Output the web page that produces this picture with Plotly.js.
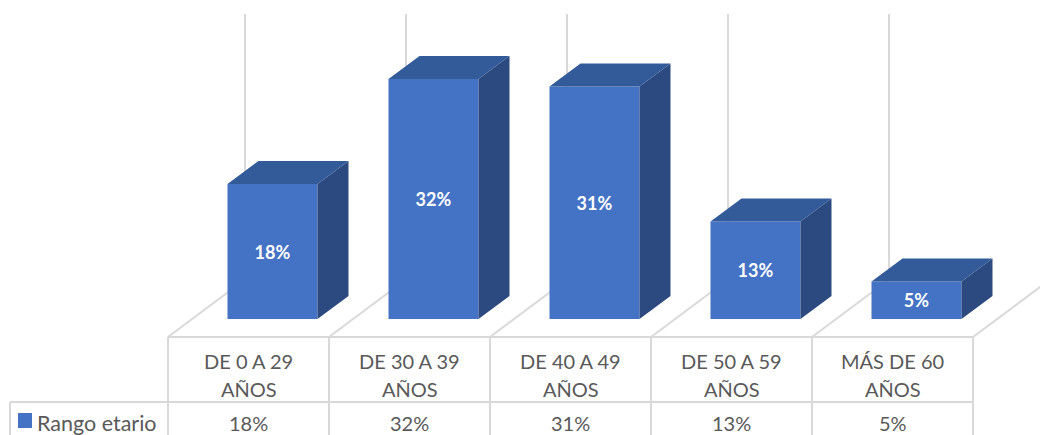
<!DOCTYPE html>
<html>
<head>
<meta charset="utf-8">
<script src="https://cdn.plot.ly/plotly-3.0.1.min.js"></script>
<style>html,body{margin:0;padding:0;background:#fff;}#chart{width:1040px;height:435px;}</style>
</head>
<body>
<div id="chart"></div>
<script>
// ---- data ----
const categories = ['DE 0 A 29 AÑOS', 'DE 30 A 39 AÑOS', 'DE 40 A 49 AÑOS', 'DE 50 A 59 AÑOS', 'MÁS DE 60 AÑOS'];
const values = [18, 32, 31, 13, 5];
const seriesName = 'Rango etario';
const axisMax = 35.4;

// ---- geometry (category units on x, percent on y) ----
const W = 1040, H = 435;
const catPx = 161, cat0Px = 248.5;        // pixel width of one category, centre of first
const pxPerPct = 7.5, floorPx = 337;      // pixels per percent, floor front edge
const xRange = [(0 - cat0Px) / catPx, (W - cat0Px) / catPx];
const yRange = [(floorPx - H) / pxPerPct, floorPx / pxPerPct];
const floorDX = 77 / catPx, floorDY = 57.5 / pxPerPct;     // full floor depth
const barOffX = 24 / catPx, barOffY = 18 / pxPerPct;       // bar front face position
const barDX = 31 / catPx, barDY = 23 / pxPerPct;           // bar depth
const barW = 90 / catPx;

const FRONT = '#4472C4', TOP = '#335A99', SIDE = '#2C4A80';
const GRID = '#D9D9D9', TXT = '#595959';
const FONT = 'Lato, "Open Sans", sans-serif';

const px = p => p / W;
const py = p => 1 - p / H;

const idx = categories.map((c, i) => i);
const bounds = categories.map((c, i) => i - 0.5).concat([categories.length - 0.5]);

// side faces & top faces (computed from values)
const sideX = [], sideY = [], topX = [], topY = [];
idx.forEach(i => {
  const v = values[i];
  const x0 = i + barOffX - barW / 2, x1 = i + barOffX + barW / 2;
  const b = barOffY, t = barOffY + v;
  sideX.push(x1, x1, x1 + barDX, x1 + barDX, x1, null);
  sideY.push(b, t, t + barDY, b + barDY, b, null);
  topX.push(x0, x1, x1 + barDX, x0 + barDX, x0, null);
  topY.push(t, t, t + barDY, t + barDY, t, null);
});

const traces = [
  {
    type: 'bar', x: idx.map(i => i + barOffX), y: values, base: values.map(() => barOffY),
    width: barW, marker: {color: FRONT, line: {width: 0}},
    text: values.map(v => '<b>' + v + '%</b>'), textposition: 'inside', insidetextanchor: 'middle',
    textfont: {color: '#FFFFFF', size: 18, family: FONT}, hoverinfo: 'skip', showlegend: false
  },
  {type: 'scatter', mode: 'lines', x: sideX, y: sideY, fill: 'toself', fillcolor: SIDE,
   line: {width: 0, color: SIDE}, hoverinfo: 'skip', showlegend: false},
  {type: 'scatter', mode: 'lines', x: topX, y: topY, fill: 'toself', fillcolor: TOP,
   line: {width: 0, color: TOP}, hoverinfo: 'skip', showlegend: false}
];

const shapes = [];
// back wall vertical gridlines
bounds.forEach(b => shapes.push({type: 'line', layer: 'below', xref: 'x', yref: 'y',
  x0: b + floorDX, x1: b + floorDX, y0: floorDY, y1: floorDY + axisMax, line: {color: GRID, width: 2}}));
// floor diagonals
bounds.forEach(b => shapes.push({type: 'line', layer: 'below', xref: 'x', yref: 'y',
  x0: b, x1: b + floorDX, y0: 0, y1: floorDY, line: {color: GRID, width: 2}}));
// table
shapes.push({type: 'line', layer: 'below', xref: 'x', yref: 'paper', x0: bounds[0], x1: bounds[bounds.length - 1],
  y0: py(337), y1: py(337), line: {color: GRID, width: 2}});
shapes.push({type: 'line', layer: 'below', xref: 'paper', yref: 'paper', x0: px(10), x1: px(973),
  y0: py(402), y1: py(402), line: {color: GRID, width: 2}});
bounds.forEach(b => shapes.push({type: 'line', layer: 'below', xref: 'x', yref: 'paper',
  x0: b, x1: b, y0: py(337), y1: 0, line: {color: GRID, width: 2}}));
shapes.push({type: 'line', layer: 'below', xref: 'paper', yref: 'paper', x0: px(10), x1: px(10),
  y0: py(402), y1: 0, line: {color: GRID, width: 2}});
// legend key
shapes.push({type: 'rect', xref: 'paper', yref: 'paper', x0: px(18), x1: px(32), y0: py(428), y1: py(413),
  fillcolor: FRONT, line: {width: 0}});

const annotations = [];
categories.forEach((c, i) => {
  const cut = c.lastIndexOf(' ');
  const lines = [c.slice(0, cut), c.slice(cut + 1)];
  lines.forEach((t, k) => annotations.push({xref: 'x', yref: 'paper', x: i, y: py(361 + 28 * k),
    text: t, showarrow: false, xanchor: 'center', yanchor: 'middle', font: {family: FONT, size: 20, color: TXT}}));
  annotations.push({xref: 'x', yref: 'paper', x: i, y: py(423), text: values[i] + '%', showarrow: false,
    xanchor: 'center', yanchor: 'middle', font: {family: FONT, size: 20, color: TXT}});
});
annotations.push({xref: 'paper', yref: 'paper', x: px(35), y: py(423), text: seriesName, showarrow: false,
  xanchor: 'left', yanchor: 'middle', font: {family: FONT, size: 21.5, color: TXT}});

const layout = {
  width: W, height: H, margin: {l: 0, r: 0, t: 0, b: 0},
  paper_bgcolor: '#FFFFFF', plot_bgcolor: 'rgba(0,0,0,0)',
  xaxis: {range: xRange, visible: false, fixedrange: true},
  yaxis: {range: yRange, visible: false, fixedrange: true},
  showlegend: false, shapes: shapes, annotations: annotations,
  font: {family: FONT}
};

Plotly.newPlot('chart', traces, layout, {staticPlot: true, displayModeBar: false});
</script>
</body>
</html>
